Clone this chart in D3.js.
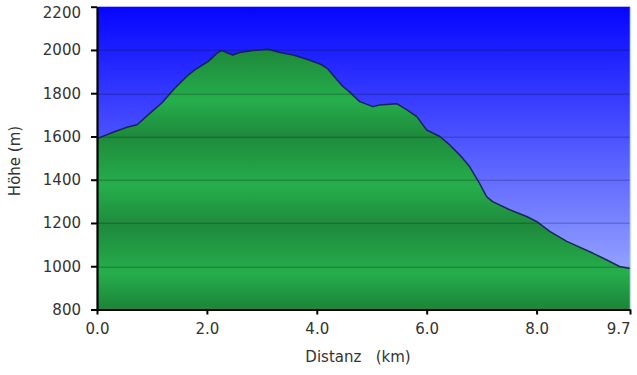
<!DOCTYPE html>
<html>
<head>
<meta charset="utf-8">
<script src="https://cdn.jsdelivr.net/npm/d3@7"></script>
<style>
  body { margin: 0; background: #fff; }
  text { font-family: "DejaVu Sans", Verdana, sans-serif; }
</style>
</head>
<body>
<div id="chart"></div>
<script>
// profile: distance (km) and elevation (m)
var distKm = [0.0, 0.33, 0.56, 0.73, 0.93, 1.18, 1.42, 1.66, 1.78, 2.02, 2.20, 2.27,
  2.47, 2.60, 2.84, 3.11, 3.33, 3.57, 3.82, 4.06, 4.19, 4.37, 4.48, 4.60, 4.78, 5.02,
  5.15, 5.46, 5.64, 5.82, 6.00, 6.24, 6.42, 6.60, 6.78, 6.96, 7.09, 7.20, 7.51, 7.82,
  8.00, 8.24, 8.55, 9.02, 9.27, 9.51, 9.70];
var elevM = [1590, 1623, 1644, 1654, 1700, 1755, 1824, 1884, 1908, 1946, 1988, 1997,
  1977, 1988, 1997, 2003, 1988, 1977, 1957, 1935, 1915, 1861, 1830, 1805, 1761, 1738,
  1746, 1751, 1723, 1692, 1630, 1600, 1561, 1515, 1461, 1384, 1322, 1299, 1261, 1230,
  1207, 1161, 1115, 1061, 1030, 999, 990];
var xTicks = [0, 2, 4, 6, 8, 9.7];
var yTicks = [800, 1000, 1200, 1400, 1600, 1800, 2000, 2200];

var width = 637,
  height = 375,
  margin = {top: 6.7, right: 7, bottom: 65.5, left: 97},
  innerWidth = width - margin.left - margin.right,
  innerHeight = height - margin.top - margin.bottom;

var data = distKm.map(function(d, i) { return [d, elevM[i]]; });

var xScale = d3.scaleLinear().domain([0, 9.7]).range([0, innerWidth]);
var yScale = d3.scaleLinear().domain([800, 2200]).range([innerHeight, 0]);

var svg = d3.select("#chart").append("svg")
    .attr("width", width)
    .attr("height", height);

var defs = svg.append("defs");

var sky = defs.append("linearGradient")
    .attr("id", "sky")
    .attr("x1", 0).attr("y1", 0).attr("x2", 0).attr("y2", 1);
sky.append("stop").attr("offset", "0%").attr("stop-color", "#0505ff");
sky.append("stop").attr("offset", "100%").attr("stop-color", "#a9b9ff");

// green fill has soft horizontal bands
var bands = [[2200, "#1f8e3d"], [1990, "#1e8a3c"], [1766, "#26ae4c"], [1604, "#1e8a3c"],
  [1373, "#26ae4c"], [1188, "#1e8a3c"], [971, "#26ae4c"], [819, "#1d883b"], [800, "#1d883b"]];
var grass = defs.append("linearGradient")
    .attr("id", "grass")
    .attr("gradientUnits", "userSpaceOnUse")
    .attr("x1", 0).attr("x2", 0)
    .attr("y1", yScale(2200)).attr("y2", yScale(800));
bands.forEach(function(b) {
  grass.append("stop")
      .attr("offset", (yScale(b[0]) / innerHeight * 100) + "%")
      .attr("stop-color", b[1]);
});

var g = svg.append("g")
    .attr("transform", "translate(" + margin.left + "," + margin.top + ")");

g.append("rect")
    .attr("width", innerWidth)
    .attr("height", innerHeight)
    .attr("fill", "url(#sky)");

var area = d3.area()
    .x(function(d) { return xScale(d[0]); })
    .y0(innerHeight)
    .y1(function(d) { return yScale(d[1]); });

var line = d3.line()
    .x(function(d) { return xScale(d[0]); })
    .y(function(d) { return yScale(d[1]); });

g.append("path")
    .datum(data)
    .attr("d", area)
    .attr("fill", "url(#grass)");

// grid lines
g.append("g")
    .selectAll("line")
    .data(yTicks.slice(1, -1))
  .enter().append("line")
    .attr("x1", 0)
    .attr("x2", innerWidth)
    .attr("y1", function(d) { return Math.round(yScale(d)) + 0.5; })
    .attr("y2", function(d) { return Math.round(yScale(d)) + 0.5; })
    .attr("stroke", "#000")
    .attr("stroke-opacity", 0.28);

g.append("path")
    .datum(data)
    .attr("d", line)
    .attr("fill", "none")
    .attr("stroke", "#161c50")
    .attr("stroke-opacity", 0.9)
    .attr("stroke-width", 1.5)
    .attr("stroke-linejoin", "round");

// light right border
g.append("line")
    .attr("x1", innerWidth + 0.5).attr("x2", innerWidth + 0.5)
    .attr("y1", 0).attr("y2", innerHeight)
    .attr("stroke", "#c6dcdc")
    .attr("stroke-width", 1.5);

var yAxis = g.append("g")
    .call(d3.axisLeft(yScale).tickValues(yTicks).tickSize(6).tickSizeOuter(0).tickPadding(10)
      .tickFormat(d3.format("d")));

var xAxis = g.append("g")
    .attr("transform", "translate(0," + innerHeight + ")")
    .call(d3.axisBottom(xScale).tickValues(xTicks).tickSize(5).tickSizeOuter(0).tickPadding(9)
      .tickFormat(d3.format(".1f")));

[xAxis, yAxis].forEach(function(ax) {
  ax.select(".domain").attr("stroke", "#000").attr("stroke-width", 2.2);
  ax.selectAll(".tick line").attr("stroke", "#000").attr("stroke-width", 2);
  ax.selectAll(".tick text")
      .attr("fill", "#333")
      .style("font-size", "15px")
      .style("font-family", "'DejaVu Sans', Verdana, sans-serif");
});

// top label pushed down so it stays on the page
yAxis.selectAll(".tick text").filter(function(d) { return d === 2200; }).attr("dy", "0.72em");
xAxis.selectAll(".tick text").filter(function(d) { return d === 9.7; })
    .attr("text-anchor", "end").attr("x", 0);

svg.append("text")
    .attr("x", 358)
    .attr("y", 362)
    .attr("text-anchor", "middle")
    .attr("fill", "#333")
    .style("font-size", "15px")
    .style("white-space", "pre")
    .text("Distanz   (km)");

svg.append("text")
    .attr("transform", "translate(20,161) rotate(-90)")
    .attr("text-anchor", "middle")
    .attr("fill", "#333")
    .style("font-size", "15px")
    .text("Höhe (m)");
</script>
</body>
</html>
